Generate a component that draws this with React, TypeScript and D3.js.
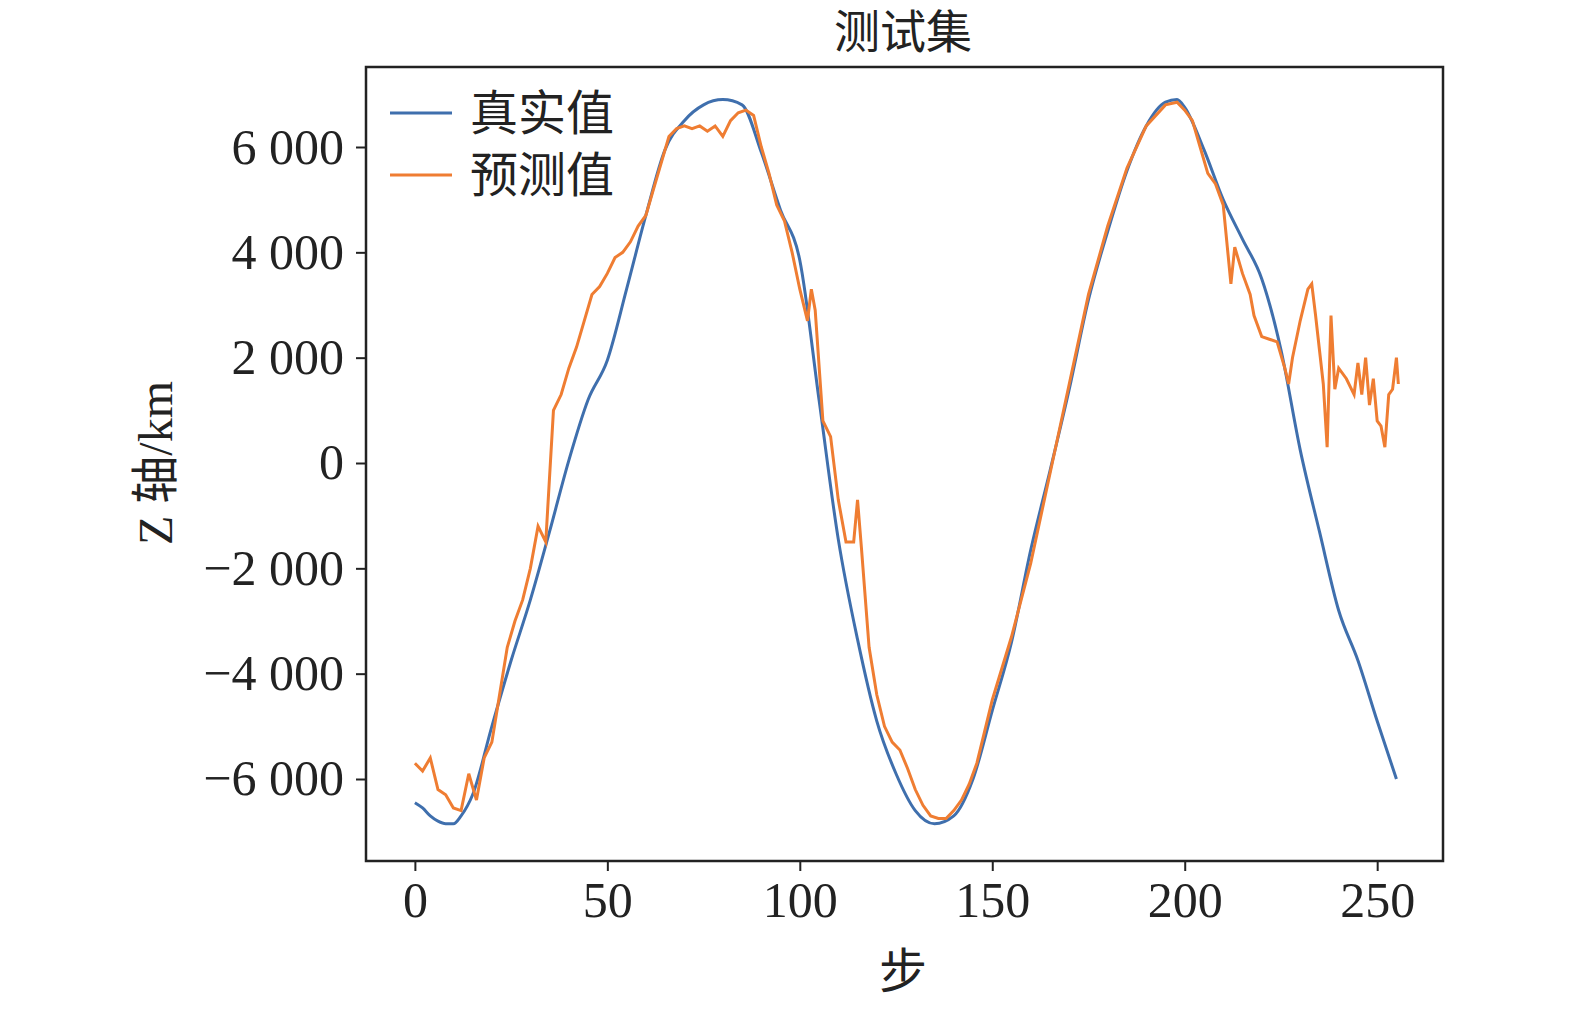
import React, { useEffect, useRef } from 'react';
import * as d3 from 'd3';

const trueSteps = [0, 2, 4, 6, 8, 10, 12, 15, 20, 25, 30, 35, 40, 45, 50, 55, 60, 65, 70, 75, 80, 85, 90, 95, 100, 105, 110, 115, 120, 125, 130, 135, 140, 145, 150, 155, 160, 165, 170, 175, 180, 185, 190, 195, 198, 200, 205, 210, 215, 220, 225, 230, 235, 240, 245, 250, 255];
const trueValues = [-6450, -6550, -6700, -6800, -6850, -6850, -6700, -6300, -5000, -3750, -2600, -1300, 50, 1200, 1950, 3300, 4700, 5950, 6500, 6800, 6900, 6800, 5900, 4800, 3850, 1200, -1450, -3350, -4900, -5900, -6600, -6850, -6700, -6000, -4700, -3400, -1650, -150, 1400, 3100, 4400, 5550, 6400, 6850, 6900, 6750, 5950, 5000, 4250, 3500, 2150, 250, -1300, -2800, -3750, -4900, -6000];

const predSteps = [0, 2, 4, 6, 8, 10, 12, 14, 16, 18, 20, 22, 24, 26, 28, 30, 32, 34, 36, 38, 40, 42, 44, 46, 48, 50, 52, 54, 56, 58, 60, 62, 64, 66, 68, 70, 72, 74, 76, 78, 80, 82, 84, 86, 88, 90, 92, 94, 96, 98, 100, 102, 103, 104, 106, 108, 110, 112, 114, 115, 116, 118, 120, 122, 124, 126, 128, 130, 132, 134, 136, 138, 140, 142, 144, 146, 148, 150, 155, 160, 165, 170, 175, 180, 185, 190, 195, 198, 200, 202, 204, 206, 208, 210, 212, 213, 215, 217, 218, 220, 222, 224, 226, 227, 228, 230, 232, 233, 234, 236, 237, 238, 239, 240, 242, 244, 245, 246, 247, 248, 249, 250, 251, 252, 253, 254, 255, 255.5];
const predValues = [-5700, -5850, -5600, -6200, -6300, -6550, -6600, -5900, -6400, -5600, -5300, -4400, -3500, -3000, -2600, -2000, -1200, -1500, 1000, 1300, 1800, 2200, 2700, 3200, 3350, 3600, 3900, 4000, 4200, 4500, 4700, 5200, 5700, 6200, 6350, 6400, 6350, 6400, 6300, 6400, 6200, 6500, 6650, 6700, 6600, 6000, 5500, 4900, 4600, 4000, 3300, 2700, 3300, 2900, 800, 500, -700, -1500, -1500, -700, -1600, -3500, -4400, -5000, -5300, -5450, -5800, -6200, -6500, -6700, -6750, -6750, -6600, -6400, -6100, -5700, -5100, -4500, -3300, -1900, -200, 1500, 3200, 4500, 5600, 6400, 6800, 6850, 6700, 6500, 6000, 5500, 5300, 4900, 3400, 4100, 3600, 3200, 2800, 2400, 2350, 2300, 1800, 1500, 2000, 2700, 3300, 3400, 2800, 1500, 300, 2800, 1400, 1800, 1600, 1300, 1900, 1300, 2000, 1100, 1600, 800, 700, 300, 1300, 1400, 2000, 1500];

const xTicks = [0, 50, 100, 150, 200, 250];
const yTicks = [-6000, -4000, -2000, 0, 2000, 4000, 6000];

const serif = '"Liberation Serif", "DejaVu Serif", serif';
const cjk = '"Noto Sans CJK SC", sans-serif';

export default function App() {
  const ref = useRef<SVGSVGElement>(null);

  useEffect(() => {
    const svg = d3.select(ref.current!);
    svg.selectAll('*').remove();

    const left = 366, right = 1443, top = 67, bottom = 861;
    const x = d3.scaleLinear().domain([-12.7, 267.1]).range([left, right]);
    const y = d3.scaleLinear().domain([-7557, 7519]).range([bottom, top]);

    // axes
    const xa = svg.append('g').attr('transform', `translate(0,${bottom})`)
      .call(d3.axisBottom(x).tickValues(xTicks).tickSize(10).tickPadding(10).tickFormat(d3.format('d')));
    const ya = svg.append('g').attr('transform', `translate(${left},0)`)
      .call(d3.axisLeft(y).tickValues(yTicks).tickSize(10).tickPadding(12)
        .tickFormat(d => { const v = +d; const s = Math.abs(v) >= 1000 ? `${Math.floor(Math.abs(v) / 1000)} ${String(Math.abs(v) % 1000).padStart(3, '0')}` : String(Math.abs(v)); return (v < 0 ? '\u2212' : '') + s; }));
    [xa, ya].forEach(a => {
      a.select('.domain').remove();
      a.selectAll('line').attr('stroke', '#222').attr('stroke-width', 2);
      a.selectAll('text').attr('font-family', serif).attr('font-size', 50).attr('fill', '#222');
    });

    svg.append('rect').attr('x', left).attr('y', top).attr('width', right - left).attr('height', bottom - top)
      .attr('fill', 'none').attr('stroke', '#222').attr('stroke-width', 2.5);

    const line = d3.line<[number, number]>().x(d => x(d[0])).y(d => y(d[1]));
    svg.append('path').datum(trueSteps.map((s, i) => [s, trueValues[i]] as [number, number]))
      .attr('d', line.curve(d3.curveMonotoneX)).attr('fill', 'none').attr('stroke', '#3f6fad').attr('stroke-width', 3);
    svg.append('path').datum(predSteps.map((s, i) => [s, predValues[i]] as [number, number]))
      .attr('d', line.curve(d3.curveLinear)).attr('fill', 'none').attr('stroke', '#ef7d32').attr('stroke-width', 3);

    // legend
    const legend = [['真实值', '#3f6fad'], ['预测值', '#ef7d32']];
    legend.forEach(([t, c], i) => {
      const ly = 113 + i * 62;
      svg.append('line').attr('x1', 390).attr('x2', 452).attr('y1', ly).attr('y2', ly).attr('stroke', c).attr('stroke-width', 3);
      svg.append('text').attr('x', 470).attr('y', ly + 17)
        .attr('font-family', cjk).attr('font-size', 48).attr('fill', '#222').text(t);
    });

    svg.append('text').attr('x', 903).attr('y', 48).attr('text-anchor', 'middle')
      .attr('font-family', cjk).attr('font-size', 46).attr('fill', '#222').text('测试集');
    svg.append('text').attr('x', 903).attr('y', 988).attr('text-anchor', 'middle')
      .attr('font-family', cjk).attr('font-size', 48).attr('fill', '#222').text('步');
    svg.append('text').attr('transform', 'translate(172,463) rotate(-90)').attr('text-anchor', 'middle')
      .attr('font-family', serif).attr('font-size', 48).attr('fill', '#222')
      .selectAll('tspan').data([['Z ', serif], ['轴', cjk], ['/km', serif]]).join('tspan')
      .attr('font-family', d => d[1]).text(d => d[0]);
  }, []);

  return <svg ref={ref} width={1575} height={1010} style={{ display: 'block', position: 'absolute', left: 0, top: 0, background: '#fff' }} />;
}
